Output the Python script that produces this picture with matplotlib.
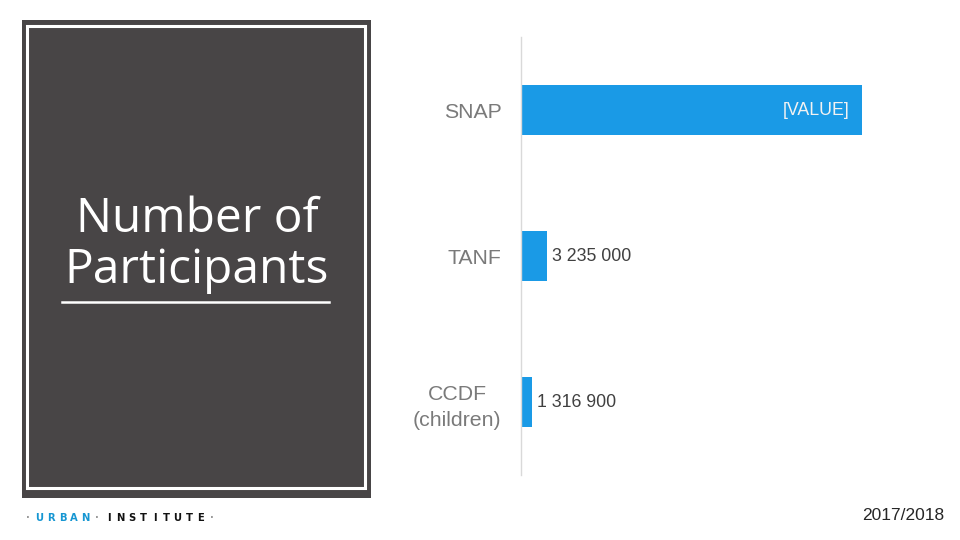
import matplotlib
matplotlib.use("Agg")
import matplotlib.pyplot as plt
from matplotlib.patches import Rectangle
from matplotlib.lines import Line2D

# ---- data ----
categories = ["SNAP", "TANF", "CCDF\n(children)"]
participants = [42000000, 3235000, 1316900]
value_labels = ["[VALUE]", "3 235 000", "1 316 900"]
title_lines = ["Number of", "Participants"]
period_label = "2017/2018"
logo_word1 = "URBAN"
logo_word2 = "INSTITUTE"

W, H = 960, 540
fig = plt.figure(figsize=(9.6, 5.4), dpi=100)
fig.patch.set_facecolor("white")

def fx(x):
    return x / W

def fy(y):
    return 1 - y / H

# ---- left panel ----
dark = "#484546"
fig.patches.append(Rectangle((fx(22), fy(498)), fx(371) - fx(22), fy(20) - fy(498),
                             transform=fig.transFigure, facecolor=dark, edgecolor="none", zorder=0))
fig.patches.append(Rectangle((fx(27), fy(488)), fx(365) - fx(27), fy(26) - fy(488),
                             transform=fig.transFigure, facecolor="none", edgecolor="white",
                             linewidth=2.2, zorder=1))
fig.text(fx(197), fy(232), title_lines[0], color="white", fontsize=34.5, family="Open Sans",
         ha="center", va="baseline")
fig.text(fx(197), fy(283.5), title_lines[1], color="white", fontsize=34.5, family="Open Sans",
         ha="center", va="baseline")
fig.lines.append(Line2D([fx(62), fx(329)], [fy(302), fy(302)], transform=fig.transFigure,
                        color="white", linewidth=1.8))

# ---- logo ----
chars = ["·"] + list(logo_word1) + ["·"] + list(logo_word2) + ["·"]
colors = (["#9a9a9a"] + ["#1696d2"] * len(logo_word1) + ["#9a9a9a"]
          + ["#111111"] * len(logo_word2) + ["#9a9a9a"])
x0, x1 = 28, 212
step = (x1 - x0) / (len(chars) - 1)
for i, (c, col) in enumerate(zip(chars, colors)):
    fig.text(fx(x0 + i * step), fy(518), c, color=col, fontsize=7.2, fontweight="heavy",
             family="DejaVu Sans", ha="center", va="center")

fig.text(fx(944), fy(515), period_label, color="#262626", fontsize=12.5,
         family="Liberation Sans", ha="right", va="center")

# ---- bar chart ----
ax_left, ax_right = 521, 900
ax_top, ax_bot = 37, 475
ax = fig.add_axes([fx(ax_left), fy(ax_bot), fx(ax_right) - fx(ax_left), fy(ax_top) - fy(ax_bot)])
ax.set_facecolor("none")
ypos = list(range(len(categories)))
bar_color = "#1A9AE6"
ax.barh(ypos, participants, height=0.342, color=bar_color, zorder=2)
snap_end_px = 862
ax.set_xlim(0, participants[0] * (ax_right - ax_left) / (snap_end_px - ax_left))
ax.set_ylim(2.5, -0.5)
for s in ["top", "right", "bottom"]:
    ax.spines[s].set_visible(False)
ax.spines["left"].set_color("#d9d9d9")
ax.spines["left"].set_linewidth(1.0)
ax.set_xticks([])
ax.set_yticks(ypos)
ax.set_yticklabels(categories, fontsize=15.3, color="#7a7a7a", family="Liberation Sans",
                   multialignment="center", linespacing=1.45)
ax.tick_params(axis="y", length=0, pad=14)

for i, (v, lab) in enumerate(zip(participants, value_labels)):
    if i == 0:
        ax.annotate(lab, (v, i), xytext=(-12, 0), textcoords="offset pixels", ha="right",
                    va="center", fontsize=12.8, color="#f2f2f2", family="Liberation Sans")
    else:
        ax.annotate(lab, (v, i), xytext=(5, 0), textcoords="offset pixels", ha="left",
                    va="center", fontsize=12.8, color="#404040", family="Liberation Sans")

fig.savefig("out.png", dpi=100)
